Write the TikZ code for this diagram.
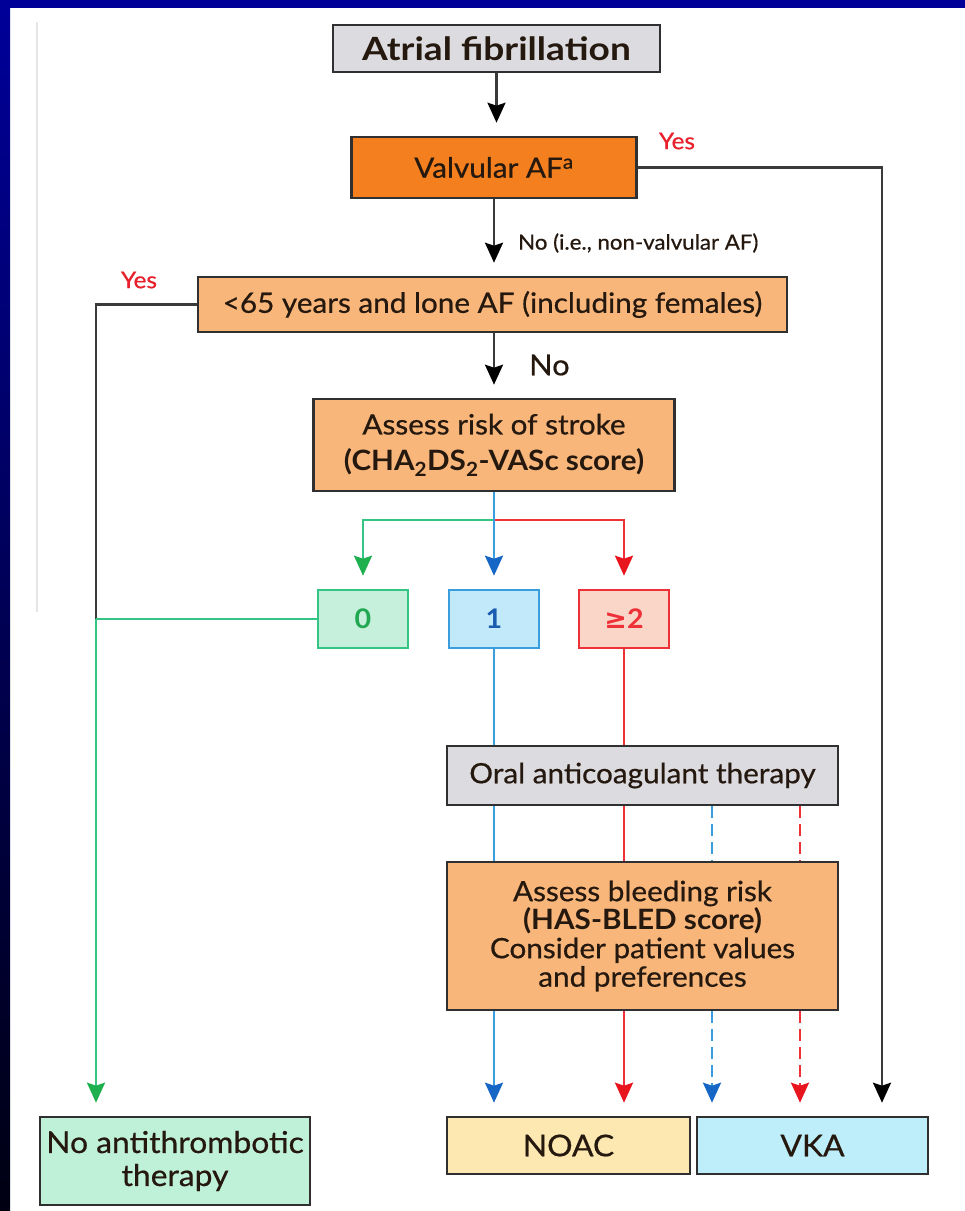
\documentclass[tikz,border=0pt]{standalone}
\usepackage{fontspec}
\setmainfont{Lato}[FakeStretch=1.06, UprightFeatures={FakeBold=0.6}]
\newfontfamily\titlefont{Lato}[FakeStretch=1.16]
\newfontfamily\symfont{DejaVu Sans}
\usetikzlibrary{arrows.meta,calc}

\definecolor{bandtop}{HTML}{000099}
\definecolor{bandbot}{HTML}{000012}
\definecolor{faint}{HTML}{E6E6E6}
\definecolor{boxline}{HTML}{303030}
\definecolor{txt}{HTML}{24180F}
\definecolor{graybox}{HTML}{DCDCE0}
\definecolor{orangedk}{HTML}{F47F1E}
\definecolor{orangelt}{HTML}{F9B67A}
\definecolor{greenln}{HTML}{34C484}
\definecolor{greentip}{HTML}{1EB04E}
\definecolor{greenlt}{HTML}{C6F0DC}
\definecolor{greentx}{HTML}{22A852}
\definecolor{blueln}{HTML}{3A9DDE}
\definecolor{bluetip}{HTML}{1666C6}
\definecolor{bluelt}{HTML}{C2E9FA}
\definecolor{bluetx}{HTML}{1A5AB0}
\definecolor{redln}{HTML}{EE3138}
\definecolor{redtip}{HTML}{E8141E}
\definecolor{redlt}{HTML}{F9D6C8}
\definecolor{yescol}{HTML}{E8202C}
\definecolor{darkln}{HTML}{3A3A3A}
\definecolor{noacfill}{HTML}{FDE8B2}
\definecolor{vkafill}{HTML}{BFEEFB}
\definecolor{noatfill}{HTML}{BFF0D8}

\begin{document}
\begin{tikzpicture}[x=1pt,y=-1pt,
  box/.style={draw=boxline, line width=2.6pt, inner sep=0pt, align=center,
    text=txt, font=\fontsize{28}{30}\selectfont},
  scorebox/.style={line width=2.6pt, inner sep=0pt, minimum width=90,
    minimum height=58, font=\fontsize{27}{30}\selectfont\bfseries},
  conn/.style={line width=2.4pt},
  lineK/.style={conn, draw=darkln},
  lineG/.style={conn, draw=greenln},
  lineB/.style={conn, draw=blueln},
  lineR/.style={conn, draw=redln},
  tipK/.style={-{Stealth[length=20pt,width=18pt,inset=3pt,color=black]}, shorten >=13pt},
  tipG/.style={-{Stealth[length=20pt,width=18pt,inset=3pt,color=greentip]}, shorten >=13pt},
  tipB/.style={-{Stealth[length=20pt,width=18pt,inset=3pt,color=bluetip]}, shorten >=13pt},
  tipR/.style={-{Stealth[length=20pt,width=18pt,inset=3pt,color=redtip]}, shorten >=13pt},
  arrK/.style={lineK, tipK},
  arrG/.style={lineG, tipG},
  arrB/.style={lineB, tipB},
  arrR/.style={lineR, tipR},
  dashB/.style={lineB, dash pattern=on 12pt off 6pt},
  dashR/.style={lineR, dash pattern=on 12pt off 6pt},
  yeslabel/.style={text=yescol, font=\fontsize{23}{26}\selectfont, inner sep=0pt}
]
% page and frame
\useasboundingbox (0,0) rectangle (965,1211);
\fill[white] (0,0) rectangle (965,1211);
\shade[top color=bandtop, bottom color=bandbot] (0,0) rectangle (10,1211);
\fill[bandtop] (0,0) rectangle (965,8);
\draw[faint, line width=1.5pt] (37,22) -- (37,612);

% column positions
\coordinate (cG) at (96,0);
\coordinate (cB) at (494,0);
\coordinate (cR) at (624,0);
\coordinate (cBd) at (712,0);
\coordinate (cRd) at (800,0);
\coordinate (cK) at (882,0);

% boxes
\node[box, fill=graybox, minimum width=327, minimum height=47,
  font=\titlefont\fontsize{32}{34}\selectfont\bfseries] (af) at (496.5,48.5) {Atrial fibrillation};
\node[box, fill=orangedk, minimum width=285, minimum height=61] (valv) at (494,167.5)
  {Valvular AF\textsuperscript{a}};
\node[box, fill=orangelt, minimum width=589, minimum height=55] (lone) at (492.5,304.5)
  {<65 years and lone AF (including females)};
\node[box, fill=orangelt, minimum width=361, minimum height=92,
  font=\fontsize{28}{36}\selectfont] (stroke) at (494,445)
  {Assess risk of stroke\\\textbf{(CHA\textsubscript{2}DS\textsubscript{2}-VASc score)}};

\node[scorebox, draw=greenln, fill=greenlt, text=greentx] (s0) at (363,619) {0};
\node[scorebox, draw=blueln, fill=bluelt, text=bluetx] (s1) at (494,619) {1};
\node[scorebox, draw=redln, fill=redlt, text=redln] (s2) at (624,619) {{\symfont\bfseries ≥}2};

\node[box, fill=graybox, minimum width=391, minimum height=59] (oral) at (642.5,775.5)
  {Oral anticoagulant therapy};
\node[box, fill=orangelt, minimum width=391, minimum height=148,
  font=\fontsize{28}{28.5}\selectfont] (bleed) at (642.5,936)
  {Assess bleeding risk\\\textbf{(HAS-BLED score)}\\Consider patient values\\and preferences};

\node[box, fill=noatfill, minimum width=270, minimum height=88,
  font=\fontsize{30}{33}\selectfont] (noat) at (175,1161) {No antithrombotic\\therapy};
\node[box, fill=noacfill, minimum width=243, minimum height=57,
  font=\fontsize{30}{32}\selectfont] (noac) at (568.5,1145.5) {NOAC};
\node[box, fill=vkafill, minimum width=231, minimum height=57,
  font=\fontsize{30}{32}\selectfont] (vka) at (812.5,1145.5) {VKA};

% labels
\node[yeslabel] (yes1) at (677,141) {Yes};
\node[yeslabel] (yes2) at (139,280) {Yes};
\node[anchor=west, inner sep=0pt, text=txt, font=\fontsize{21}{24}\selectfont] (nolab1) at (518,243)
  {No (i.e., non-valvular AF)};
\node[anchor=west, inner sep=0pt, text=txt, font=\fontsize{29}{32}\selectfont] (nolab2) at (529,365) {No};

% main column
\draw[arrK] (af.south) -- (af.south |- valv.north);
\draw[arrK] (valv.south) -- (valv.south |- lone.north);
\draw[arrK] (lone.south -| stroke.north) -- (stroke.north);

% valvular AF: yes
\draw[arrK] (valv.east) -| (cK |- vka.north);

% lone AF: yes
\coordinate (jn) at (cG |- s0.west);
\draw[lineK] (lone.west) -| (jn);
\draw[lineG] (s0.west) -- (jn);
\draw[arrG] (jn) -- (cG |- noat.north);

% stroke score split
\coordinate (split) at (494,520);
\draw[arrG] (split) -| (s0.north);
\draw[arrR] (split) -| (s2.north);
\draw[arrB] (stroke.south) -- (s1.north);

% score 1 and score >=2 paths
\draw[lineB] (s1.south) -- (cB |- oral.north);
\draw[lineB] (cB |- oral.south) -- (cB |- bleed.north);
\draw[arrB] (cB |- bleed.south) -- (cB |- noac.north);
\draw[lineR] (s2.south) -- (cR |- oral.north);
\draw[lineR] (cR |- oral.south) -- (cR |- bleed.north);
\draw[arrR] (cR |- bleed.south) -- (cR |- noac.north);

% dashed paths towards VKA
\draw[dashB] (cBd |- oral.south) -- (cBd |- bleed.north);
\draw[dashR] (cRd |- oral.south) -- (cRd |- bleed.north);
\draw[dashB, tipB] (cBd |- bleed.south) -- (cBd |- vka.north);
\draw[dashR, tipR] (cRd |- bleed.south) -- (cRd |- vka.north);
\end{tikzpicture}
\end{document}
